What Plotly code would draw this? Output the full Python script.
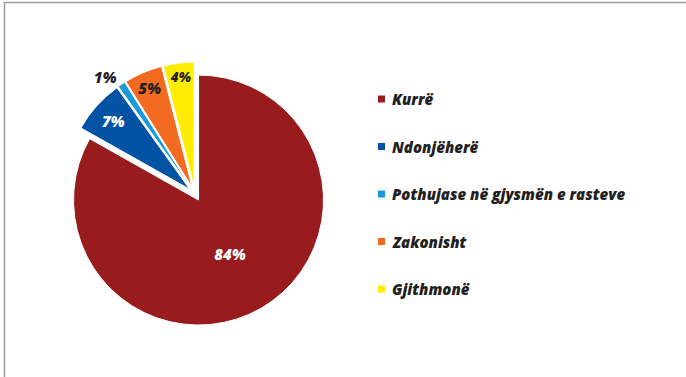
import plotly.graph_objects as go

# Survey answers and their shares (%)
labels = ["Kurrë", "Ndonjëherë", "Pothujase në gjysmën e rasteve", "Zakonisht", "Gjithmonë"]
values = [84, 7, 1, 5, 4]
colors = ["#981B1E", "#0353A4", "#1A9AD6", "#F36B21", "#FFEC00"]
text_colors = ["white", "white", "#231F20", "#231F20", "#231F20"]
text_positions = ["inside", "inside", "outside", "inside", "inside"]

W, H = 686, 377
FONT = "Open Sans"

fig = go.Figure()
fig.add_trace(go.Pie(
    labels=labels,
    values=values,
    text=[f"{v}%" for v in values],
    textinfo="text",
    textposition=text_positions,
    insidetextorientation="horizontal",
    textfont=dict(family=FONT, size=15, color=text_colors, weight=800, style="italic"),
    sort=False,
    direction="clockwise",
    rotation=0,
    pull=0.056,
    marker=dict(colors=colors, line=dict(color="white", width=1)),
    domain=dict(x=[63 / W, 327 / W], y=[1 - 326 / H, 1 - 62 / H]),
    showlegend=False,
    hoverinfo="label+text",
))

# Legend: coloured squares with italic labels, evenly spaced
shapes = []
annotations = []
top_y, step = 99, 47.5
for i, (lab, col) in enumerate(zip(labels, colors)):
    yc = top_y + i * step
    shapes.append(dict(type="rect", xref="paper", yref="paper",
                       x0=378 / W, x1=385 / W, y0=1 - (yc + 3.5) / H, y1=1 - (yc - 3.5) / H,
                       fillcolor=col, line=dict(width=0)))
    annotations.append(dict(x=390 / W, y=1 - yc / H, xref="paper", yref="paper",
                            text=lab, showarrow=False, xanchor="left", yanchor="middle",
                            font=dict(family=FONT, size=15, color="#231F20",
                                      weight=800, style="italic")))

# Chart frame (top and left edges visible)
shapes.append(dict(type="rect", xref="paper", yref="paper",
                   x0=4.5 / W, x1=1.2, y0=-0.2, y1=1 - 2.5 / H,
                   line=dict(color="#9A9A9A", width=1.5), fillcolor="rgba(0,0,0,0)"))

fig.update_layout(
    width=W, height=H,
    margin=dict(l=0, r=0, t=0, b=0),
    paper_bgcolor="white",
    plot_bgcolor="white",
    shapes=shapes,
    annotations=annotations,
)

fig.write_html("out.html")
